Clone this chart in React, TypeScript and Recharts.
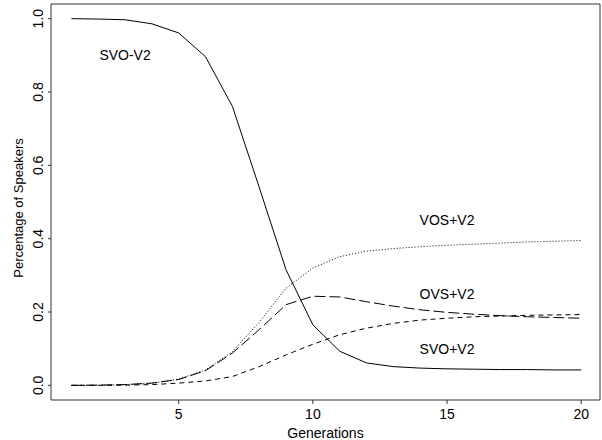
import React from 'react';
import { LineChart, Line, XAxis, YAxis, ReferenceArea, ReferenceDot } from 'recharts';

// generations 1..20
const generations = [1, 2, 3, 4, 5, 6, 7, 8, 9, 10, 11, 12, 13, 14, 15, 16, 17, 18, 19, 20];

const svoMinusV2 = [1.0, 0.999, 0.997, 0.986, 0.961, 0.896, 0.761, 0.54, 0.315, 0.165, 0.093, 0.061, 0.051, 0.047, 0.045, 0.044, 0.043, 0.043, 0.042, 0.042];
const vosPlusV2 = [0, 0.0005, 0.002, 0.006, 0.017, 0.042, 0.092, 0.172, 0.265, 0.32, 0.351, 0.366, 0.373, 0.378, 0.382, 0.385, 0.388, 0.391, 0.393, 0.395];
const ovsPlusV2 = [0, 0.0005, 0.002, 0.006, 0.016, 0.04, 0.088, 0.152, 0.22, 0.243, 0.241, 0.228, 0.216, 0.206, 0.199, 0.194, 0.19, 0.187, 0.185, 0.183];
const svoPlusV2 = [0, 0, 0.0005, 0.002, 0.006, 0.012, 0.024, 0.051, 0.083, 0.112, 0.138, 0.156, 0.169, 0.178, 0.183, 0.187, 0.189, 0.191, 0.192, 0.193];

const xTicks = [5, 10, 15, 20];
const yTicks = [0, 0.2, 0.4, 0.6, 0.8, 1.0];

const xDomain: [number, number] = [0.24, 20.7];
const yDomain: [number, number] = [-0.04, 1.04];

// text annotations, placed in data units
const seriesLabels = [
    { text: 'SVO-V2', x: 3, y: 0.9 },
    { text: 'VOS+V2', x: 15, y: 0.45 },
    { text: 'OVS+V2', x: 15, y: 0.25 },
    { text: 'SVO+V2', x: 15, y: 0.1 },
];

const FONT = '"Liberation Sans", Arial, Helvetica, sans-serif';
const INK = '#000';
const FRAME = '#333';

const data = generations.map((g, i) => ({
    gen: g,
    svoMinus: svoMinusV2[i],
    vosPlus: vosPlusV2[i],
    ovsPlus: ovsPlusV2[i],
    svoPlus: svoPlusV2[i],
}));

const RotatedYTick = (props: any) => {
    const { x, y, payload } = props;
    return (
        <text
            x={x}
            y={y}
            transform={`rotate(-90, ${x}, ${y})`}
            textAnchor="middle"
            fontFamily={FONT}
            fontSize={14}
            fill={INK}
        >
            {Number(payload.value).toFixed(1)}
        </text>
    );
};

const YTitle = (props: any) => {
    const vb = props.viewBox || { x: 0, y: 0, width: 0, height: 0 };
    const cx = vb.x + 23;
    const cy = vb.y + vb.height / 2 + 6;
    return (
        <text
            x={cx}
            y={cy}
            transform={`rotate(-90, ${cx}, ${cy})`}
            textAnchor="middle"
            fontFamily={FONT}
            fontSize={13}
            fill={INK}
        >
            Percentage of Speakers
        </text>
    );
};

export default function App() {
    return (
        <div style={{ position: 'absolute', left: 0, top: 0, background: '#fff' }}>
            <LineChart width={602} height={440} data={data} margin={{ top: 4, right: 2, bottom: 0, left: 0 }}>
                <XAxis
                    dataKey="gen"
                    type="number"
                    domain={xDomain}
                    allowDataOverflow
                    ticks={xTicks}
                    height={40}
                    axisLine={false}
                    tickSize={4}
                    tickMargin={5}
                    tickLine={{ stroke: FRAME }}
                    tick={{ fill: INK, fontSize: 14, fontFamily: FONT }}
                    label={{ value: 'Generations', position: 'insideBottom', offset: 2, fill: INK, fontSize: 14, fontFamily: FONT }}
                />
                <YAxis
                    type="number"
                    domain={yDomain}
                    allowDataOverflow
                    ticks={yTicks}
                    width={51}
                    axisLine={false}
                    tickSize={3}
                    tickMargin={5}
                    tickLine={{ stroke: FRAME }}
                    tick={<RotatedYTick />}
                    label={<YTitle />}
                />
                <ReferenceArea
                    x1={xDomain[0]}
                    x2={xDomain[1]}
                    y1={yDomain[0]}
                    y2={yDomain[1]}
                    fill="none"
                    fillOpacity={0}
                    stroke={FRAME}
                    strokeWidth={1}
                    ifOverflow="visible"
                />
                <Line type="linear" dataKey="svoMinus" stroke={INK} strokeWidth={1} dot={false} isAnimationActive={false} />
                <Line type="linear" dataKey="vosPlus" stroke={INK} strokeWidth={1} strokeDasharray="1 2" dot={false} isAnimationActive={false} />
                <Line type="linear" dataKey="ovsPlus" stroke={INK} strokeWidth={1} strokeDasharray="11 4" dot={false} isAnimationActive={false} />
                <Line type="linear" dataKey="svoPlus" stroke={INK} strokeWidth={1} strokeDasharray="5 4" dot={false} isAnimationActive={false} />
                {seriesLabels.map(l => (
                    <ReferenceDot
                        key={l.text}
                        x={l.x}
                        y={l.y}
                        r={0}
                        fill="none"
                        stroke="none"
                        ifOverflow="visible"
                        label={{ value: l.text, position: 'center', fill: INK, fontSize: 14, fontFamily: FONT }}
                    />
                ))}
            </LineChart>
        </div>
    );
}
